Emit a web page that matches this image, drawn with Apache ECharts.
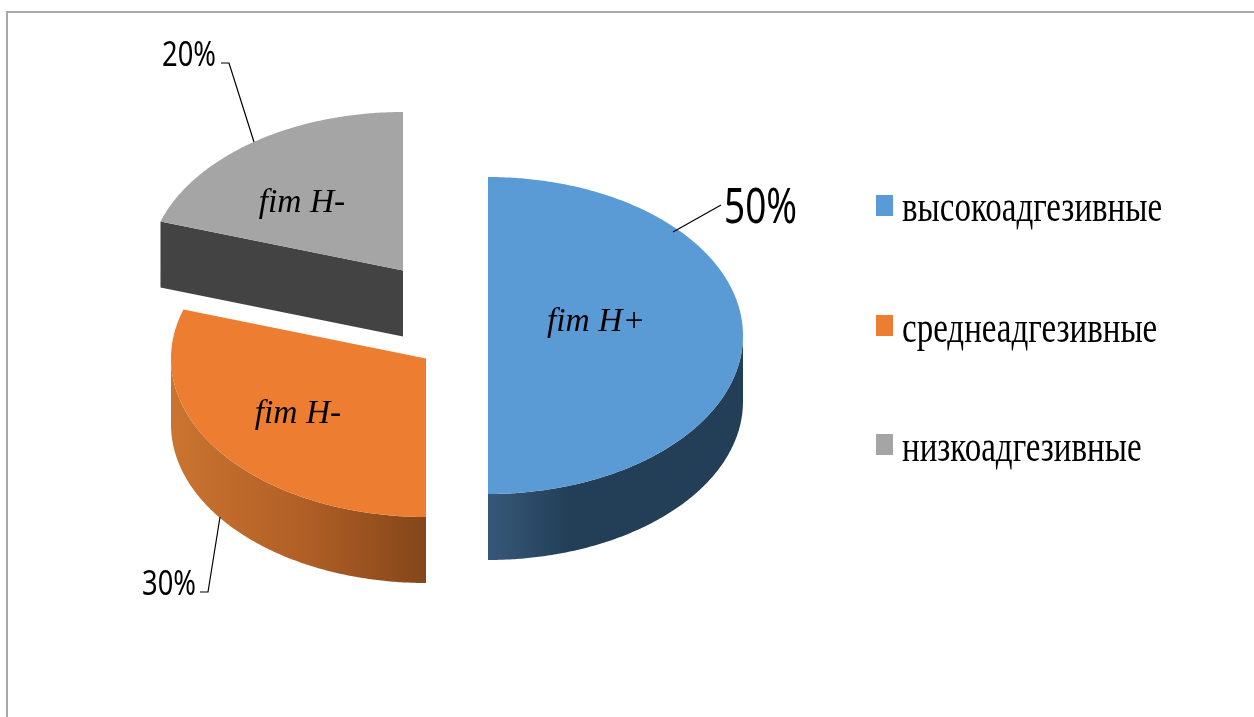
<!DOCTYPE html>
<html>
<head>
<meta charset="utf-8">
<style>html,body{margin:0;padding:0;background:#fff}#chart{width:1254px;height:717px}</style>
<script src="https://cdn.jsdelivr.net/npm/echarts@6/dist/echarts.min.js"></script>
</head>
<body>
<div id="chart"></div>
<script>
// Adhesion groups and their shares, percent
const groupNames = ['высокоадгезивные', 'среднеадгезивные', 'низкоадгезивные'];
const shareValues = [50, 30, 20];
const sliceCaptions = ['fim H+', 'fim H-', 'fim H-'];
const topColors = ['#5b9bd5', '#ed7d31', '#a5a5a5'];

// Perspective pie geometry
const RX = 255, RY = 158.5, DEPTH = 66;
const sliceCenters = [[488, 335.5], [426, 358.5], [403, 270.5]];
const captionAnchors = [[596, 322], [298, 414], [302, 203]];
const valueLabels = [
  { x: 724, y: 209, size: 50, scale: 0.74, align: 'left' },
  { x: 196, y: 585, size: 35, scale: 0.78, align: 'right' },
  { x: 216, y: 56, size: 35, scale: 0.78, align: 'right' }
];
const leaderLines = [
  [[721, 205], [673, 232]],
  [[200, 592], [208, 592], [220, 517]],
  [[221, 63], [229, 63], [254, 142]]
];
const legendRows = [[195, 209], [315, 330], [434, 449]];
const wallFills = [
  [[0, '#37587a'], [0.32, '#233f57'], [1, '#233f57']],
  [[0, '#cb7431'], [0.5, '#b26026'], [1, '#84461a']],
  null
];

// Point on the tilted rim; theta runs clockwise from twelve o'clock, in degrees
function rim(c, theta, drop) {
  const a = theta * Math.PI / 180;
  return [c[0] + RX * Math.sin(a), c[1] - RY * Math.cos(a) + (drop || 0)];
}
function arc(c, from, to, drop) {
  const pts = [];
  const n = Math.max(2, Math.ceil(Math.abs(to - from) * 2));
  for (let i = 0; i <= n; i++) pts.push(rim(c, from + (to - from) * i / n, drop));
  return pts;
}
function gradient(stops) {
  return {
    type: 'linear', x: 0, y: 0, x2: 1, y2: 0,
    colorStops: stops.map(s => ({ offset: s[0], color: s[1] }))
  };
}

const total = shareValues.reduce((s, v) => s + v, 0);

function renderSlice(params, api) {
  const i = params.dataIndex;
  const before = shareValues.slice(0, i).reduce((s, v) => s + v, 0);
  const start = before / total * 360;
  const end = start + api.value(0) / total * 360;
  const c = sliceCenters[i];
  const children = [];

  // Outer wall: only the part of the rim that faces the viewer
  const wallFrom = Math.max(start, 90), wallTo = Math.min(end, 270);
  if (wallTo > wallFrom) {
    const pts = arc(c, wallFrom, wallTo, 0).concat(arc(c, wallTo, wallFrom, DEPTH));
    children.push({ type: 'polygon', shape: { points: pts }, style: { fill: gradient(wallFills[i]) } });
  }
  // Cut face of the slice that opens towards the viewer
  if (start > 270) {
    const p = rim(c, start, 0);
    children.push({
      type: 'polygon',
      shape: { points: [c, p, [p[0], p[1] + DEPTH], [c[0], c[1] + DEPTH]] },
      style: { fill: '#434343' }
    });
  }
  // Top face
  children.push({
    type: 'polygon',
    shape: { points: [c].concat(arc(c, start, end, 0)) },
    style: { fill: topColors[i] }
  });
  // Caption on the slice
  children.push({
    type: 'text', x: captionAnchors[i][0], y: captionAnchors[i][1],
    style: {
      text: sliceCaptions[i], fill: '#000', align: 'center', verticalAlign: 'middle',
      font: 'italic 33.5px "Liberation Serif"'
    }
  });
  // Leader line and percentage
  children.push({
    type: 'polyline', shape: { points: leaderLines[i] },
    style: { fill: null, stroke: '#000', lineWidth: 1.2 }
  });
  const vl = valueLabels[i];
  children.push({
    type: 'text', x: vl.x, y: vl.y, scaleX: vl.scale,
    style: {
      text: api.value(0) + '%', fill: '#000', align: vl.align, verticalAlign: 'middle',
      font: vl.size + 'px "Noto Sans"'
    }
  });
  // Legend row
  const row = legendRows[i];
  children.push({
    type: 'rect', shape: { x: 876, y: row[0], width: 17, height: 21 },
    style: { fill: topColors[i] }
  });
  children.push({
    type: 'text', x: 902, y: row[1], scaleX: 0.75,
    style: {
      text: groupNames[i], fill: '#000', align: 'left', verticalAlign: 'middle',
      font: '44px "Liberation Serif"'
    }
  });
  return { type: 'group', children };
}

const chart = echarts.init(document.getElementById('chart'), null, { renderer: 'canvas' });
chart.setOption({
  animation: false,
  backgroundColor: '#fff',
  graphic: [{
    type: 'polyline', silent: true,
    shape: { points: [[7, 717], [7, 12], [1254, 12]] },
    style: { fill: null, stroke: '#a8a8a8', lineWidth: 2 }
  }],
  series: [{
    type: 'custom',
    coordinateSystem: 'none',
    silent: true,
    data: shareValues.map(v => [v]),
    encode: { value: 0 },
    renderItem: renderSlice
  }]
});
</script>
</body>
</html>
